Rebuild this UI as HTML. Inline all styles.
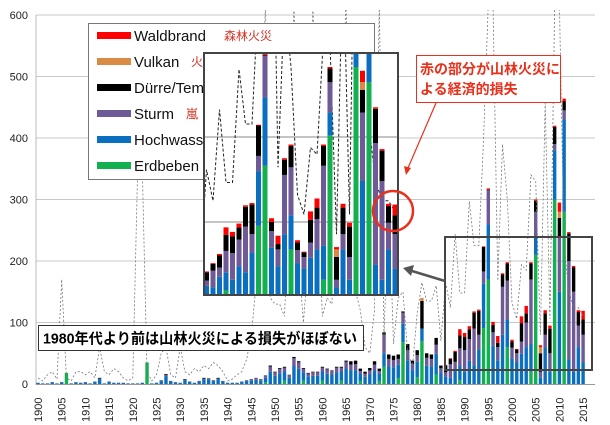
<!DOCTYPE html>
<html><head><meta charset="utf-8"><style>
html,body{margin:0;padding:0;background:#fff;}
svg{display:block;font-family:"Liberation Sans","Noto Sans CJK JP",sans-serif;}
</style></head><body>
<svg id="s" width="610" height="425" viewBox="0 0 610 425" xmlns="http://www.w3.org/2000/svg"></svg>
<script>
var C=["#12b04e","#0b6fc0","#6e5a96","#000000","#d98a44","#ff0000"];
var D={};
var pre={1900:2,1901:1,1902:1,1903:3,1904:1,1905:3,1906:18,1907:1,1908:3,1909:2,1910:3,1911:1,1912:4,1913:10,1914:1,1915:4,1916:2,1917:2,1918:2,1919:1,1920:1,1921:1,1922:2,1923:35,1924:1,1925:2,1926:6,1927:16,1928:5,1929:3,1930:2,1931:8,1932:4,1933:2,1934:5,1935:10,1936:9,1937:6,1938:10,1939:5,1940:2,1941:2,1942:2,1943:4,1944:6,1945:8,1946:10,1947:8,1948:14,1949:30,1950:20,1951:26,1952:28,1953:15,1954:44,1955:37,1956:26,1957:18,1958:20,1959:20,1960:28,1961:25,1962:22,1963:28,1964:28,1965:38,1966:37,1967:38,1968:25,1969:20,1970:26,1971:37,1972:25,1973:84,1974:48,1975:46,1976:48,1977:118,1978:65,1979:38,1980:55,1981:140,1982:50,1983:48,1984:75,1985:30};
for(var y in pre){var t=pre[y];y=+y;
 if(y==1906||y==1923){D[y]=[t,0,0,0,0,0];continue;}
 if(y<1945){D[y]=[0,t*0.8,t*0.1,t*0.1,0,0];continue;}
 var g=(y%4==0)?t*0.2:0;var k=y>1965?t*0.15:t*0.05;
 if(y==1977){D[y]=[68,30,18,2,0,0];continue;}
 if(y==1981){D[y]=[70,20,0,45,5,0];continue;}
 if(y==1973){D[y]=[28,22,30,4,0,0];continue;}
 D[y]=[g,(t-g-k)*0.7,(t-g-k)*0.3,k,0,0];}
var late=[[0,12,7,11,0,1],[0,10,22,9,0,1],[0,24,12,16,0,2],[6,24,28,21,0,10],[0,20,35,22,0,6],[0,38,35,16,0,5],[0,30,60,26,0,2],[0,56,24,39,0,2],[91,72,20,40,0,1],[170,90,55,1,0,2],[0,62,22,12,0,5],[0,38,22,7,0,11],[0,80,78,20,0,2],[60,45,63,28,0,2],[0,42,17,10,0,3],[0,35,15,6,0,1],[0,49,20,30,0,11],[0,60,40,15,0,12],[20,45,105,26,0,2],[210,30,40,18,0,2],[0,10,10,30,10,3],[0,60,20,35,0,5],[0,20,30,40,0,5],[300,80,10,28,0,2],[0,150,90,30,10,15],[280,150,15,15,0,4],[0,40,160,45,0,2],[0,20,130,40,0,2],[0,60,35,22,0,3],[0,35,45,25,0,14]];
for(var i=0;i<30;i++)D[1986+i]=late[i];
var dashPre=[10,5,15,20,8,170,10,5,20,20,15,20,10,60,20,15,25,20,10,5,10,340,350,20,5,15,50,60,15,10,60,20,15,25,20,30,25,35,30,20,5,8,15,20,40,80,160,400,650,140,130,130,110,300,650,200,100,200,650,300,110,140,130,300,450,650,200,150,120,60,50,120,650,80,300,65,140,150,50,30,115,165,135,135,160,70];
var dashLate=[165,124,244,148,148,297,225,225,400,650,650,168,390,300,132,106,194,185,340,330,80,460,106,650,650,225,150,124,124,110];
var dash=dashPre.concat(dashLate);
var s='';
for(var v=100;v<=600;v+=100){var yy=384-v*0.615;s+='<line x1="36" y1="'+yy+'" x2="595" y2="'+yy+'" stroke="#c8c8c8" stroke-width="1"/>';}
s+='<line x1="36" y1="15" x2="36" y2="385" stroke="#bbb"/><line x1="36" y1="384.5" x2="595" y2="384.5" stroke="#999"/>';
for(var v=0;v<=600;v+=100){s+='<text x="28" y="'+(388-v*0.615)+'" font-size="11" text-anchor="end" fill="#222">'+v+'</text>';}
function X(y){return 38+(y-1900)*4.74;}
for(var y=1900;y<=2015;y++){var a=D[y],base=384;for(var j=0;j<6;j++){var h=a[j]*0.615;if(h<=0)continue;base-=h;s+='<rect x="'+(X(y)-1.7)+'" y="'+base+'" width="3.4" height="'+h+'" fill="'+C[j]+'"/>';}}
var p='';for(var y=1900;y<=2015;y++){var v=Math.min(dash[y-1900],620);p+=(p?'L':'M')+X(y).toFixed(1)+' '+(384-v*0.615).toFixed(1);}
s+='<clipPath id="cm"><rect x="36" y="10" width="560" height="375"/></clipPath><path d="'+p+'" fill="none" stroke="#777" stroke-width="0.8" stroke-dasharray="2,2" clip-path="url(#cm)"/>';
for(var y=1900;y<=2015;y+=5){s+='<text transform="translate('+(X(y)+4)+',422) rotate(-90)" font-size="11" fill="#222">'+y+'</text>';}
s+='<rect x="88.5" y="23.5" width="286" height="156" fill="#fff" stroke="#777"/>';
var L=[["Waldbrand",5,"森林火災",224],["Vulkan",4,"火",191],["Dürre/Temperatur",3,"",0],["Sturm",2,"嵐",186],["Hochwasser",1,"",0],["Erdbeben",0,"",0]];
for(var i=0;i<6;i++){var yy=35+i*26;s+='<rect x="97" y="'+(yy-3)+'" width="34" height="7" fill="'+C[L[i][1]]+'"/><text x="134" y="'+(yy+6)+'" font-size="15" fill="#111">'+L[i][0]+'</text>';if(L[i][2])s+='<text x="'+L[i][3]+'" y="'+(yy+5)+'" font-size="12" fill="#d03020">'+L[i][2]+'</text>';}
s+='<clipPath id="ci"><rect x="204" y="53" width="194" height="242"/></clipPath><rect x="204" y="53" width="194" height="242" fill="#fff"/><g clip-path="url(#ci)">';
s+='<line x1="204" y1="137" x2="398" y2="137" stroke="#888"/><line x1="204" y1="222" x2="398" y2="222" stroke="#888"/>';
function XI(i){return 206.5+i*6.5;}
var q='';for(var i=0;i<30;i++){q+=(q?'L':'M')+XI(i).toFixed(1)+' '+(295-dashLate[i]*0.76).toFixed(1);}
q='M203 222L'+q.slice(1);
s+='<path d="'+q+'" fill="none" stroke="#222" stroke-width="1" stroke-dasharray="3,2"/>';
for(var i=0;i<30;i++){var a=late[i],base=295;for(var j=0;j<6;j++){var h=a[j]*0.76;if(h<=0)continue;base-=h;s+='<rect x="'+(XI(i)-2.5)+'" y="'+base+'" width="5" height="'+h+'" fill="'+C[j]+'"/>';}}
s+='</g><rect x="204" y="53" width="194" height="242" fill="none" stroke="#444" stroke-width="2"/>';
s+='<circle cx="393" cy="211" r="20" fill="none" stroke="#e8301c" stroke-width="2.5"/>';
s+='<rect x="416.5" y="55.5" width="144" height="47" fill="#fff" stroke="#e8301c"/><text x="420" y="74" font-size="14" font-weight="bold" fill="#e8301c">赤の部分が山林火災に</text><text x="420" y="94" font-size="14" font-weight="bold" fill="#e8301c">よる経済的損失</text>';
s+='<line x1="436" y1="103" x2="408" y2="168" stroke="#e8301c" stroke-width="1.2"/><polygon points="406,175 404,166 411,168" fill="#e8301c"/>';
s+='<rect x="445" y="237" width="147" height="133" fill="none" stroke="#444" stroke-width="2"/>';
s+='<line x1="445" y1="281" x2="412" y2="271" stroke="#555" stroke-width="2.5"/><polygon points="403,268 414,265 411,276" fill="#555"/>';
s+='<rect x="38.5" y="325.5" width="325" height="25" fill="#fff" stroke="#333"/><text x="43" y="343.5" font-size="14.6" font-weight="bold" fill="#000" textLength="314" lengthAdjust="spacingAndGlyphs">1980年代より前は山林火災による損失がほぼない</text>';
document.getElementById('s').innerHTML=s;
</script>
</body></html>
